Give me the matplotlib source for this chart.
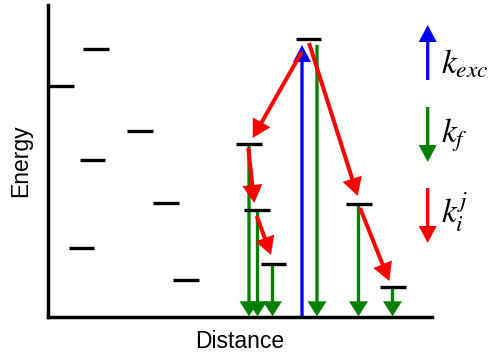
import matplotlib.pyplot as plt

plt.rcParams['mathtext.fontset'] = 'stix'

# energy levels (x centre, energy), left-hand decoy states
left_x = [96, 61, 140, 92.5, 166, 81.5, 186]
left_e = [268, 231, 186, 157, 114, 69, 37]

# levels involved in the cascade
right_x = [308.5, 249, 257, 273.5, 359, 393]
right_e = [278, 173, 107, 53, 113, 30]

# radiative decays (k_f) down to ground
green_x = [249, 257.5, 272.5, 317, 358.5, 392.5]
green_top = [173, 107, 53, 272, 113, 30]

# excitation (k_exc)
blue_x = 302
blue_top = 272

# non-radiative transfers (k_i^j): start -> end
red_start = [(301.7, 265), (309, 274), (248.3, 169), (256.7, 101), (360, 109)]
red_end = [(252.7, 179), (357.7, 121), (254.3, 114), (271, 62), (389.3, 36)]

legend_labels = [r'$k_{exc}$', r'$k_f$', r'$k_i^j$']

level_w = 25.5
ground = 0.7

fig = plt.figure(figsize=(4.88, 3.57), dpi=100)
ax = fig.add_axes([48 / 488, 40 / 357, 384 / 488, 312 / 357])
ax.set_xlim(48, 432)
ax.set_ylim(0, 312)

for s in ['top', 'right']:
    ax.spines[s].set_visible(False)
for s in ['left', 'bottom']:
    ax.spines[s].set_linewidth(2.5)
ax.set_xticks([])
ax.set_yticks([])

for x, e in zip(left_x + right_x, left_e + right_e):
    ax.plot([x - level_w / 2, x + level_w / 2], [e, e], color='black',
            lw=2.4, solid_capstyle='butt', clip_on=False, zorder=3)

for x, top in zip(green_x, green_top):
    ax.arrow(x, top, 0, ground - top, width=3.3, head_width=19,
             head_length=15, length_includes_head=True,
             color='green', lw=0, zorder=2)

ax.arrow(blue_x, ground, 0, blue_top - ground, width=3.3, head_width=18,
         head_length=17, length_includes_head=True, color='blue', lw=0,
         zorder=2)

for (x0, y0), (x1, y1) in zip(red_start, red_end):
    ax.arrow(x0, y0, x1 - x0, y1 - y0, width=4, head_width=20,
             head_length=18, length_includes_head=True, color='red',
             lw=0, zorder=4)

# legend arrows
lx = 427.7
ax.arrow(lx, 237, 0, 55, width=3.3, head_width=18, head_length=17,
         length_includes_head=True, color='blue', lw=0, clip_on=False)
ax.arrow(lx, 210, 0, -55, width=3.3, head_width=18, head_length=17,
         length_includes_head=True, color='green', lw=0, clip_on=False)
ax.arrow(lx, 129, 0, -55, width=3.3, head_width=18, head_length=17,
         length_includes_head=True, color='red', lw=0, clip_on=False)

for lab, yb in zip(legend_labels, [244, 174, 94]):
    ax.text(441, yb, lab, fontsize=24, va='baseline', ha='left',
            clip_on=False)

ax.set_xlabel('Distance', family='Liberation Sans', fontsize=16.5, labelpad=9)
ax.set_ylabel('Energy', family='Liberation Sans', fontsize=16.5, labelpad=11.5)

fig.savefig('out.png', dpi=100)
